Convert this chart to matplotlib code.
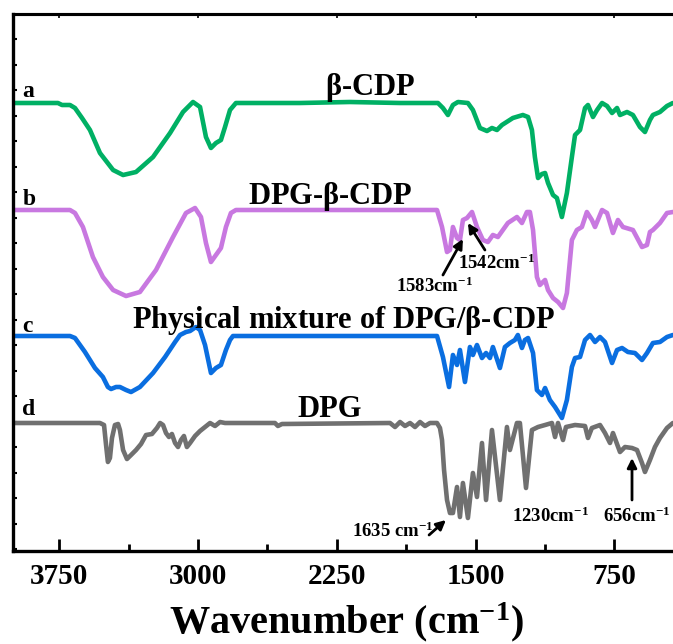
import numpy as np
import matplotlib
matplotlib.use("Agg")
import matplotlib.pyplot as plt

plt.rcParams['font.family'] = ['Liberation Serif', 'DejaVu Serif']
plt.rcParams['font.weight'] = 'bold'
plt.rcParams['mathtext.fontset'] = 'custom'
plt.rcParams['mathtext.rm'] = 'Liberation Serif:bold'
plt.rcParams['mathtext.it'] = 'Liberation Serif:bold'
plt.rcParams['mathtext.bf'] = 'Liberation Serif:bold'

# FTIR spectra (wavenumber in cm-1, stacked intensity in a.u.)
wn_a = [4000, 3757, 3735, 3692, 3665, 3627, 3584, 3530, 3459, 3405,
        3335, 3243, 3151, 3081, 3027, 2989, 2957, 2930, 2903, 2876,
        2854, 2827, 2795, 2449, 2179, 1908, 1703, 1676, 1649, 1622,
        1595, 1541, 1514, 1476, 1438, 1411, 1384, 1357, 1298, 1244,
        1216, 1195, 1179, 1162, 1141, 1124, 1108, 1081, 1060, 1033,
        1006, 979, 962, 935, 908, 892, 865, 843, 816, 789,
        762, 735, 719, 681, 649, 611, 584, 557, 541, 503,
        465, 433]
a_val = [448, 448, 446, 446, 443, 433, 421, 398, 381, 376,
         379, 394, 418, 439, 449, 444, 414, 403, 408, 411,
         424, 441, 448, 448, 449, 448, 448, 443, 436, 446,
         449, 448, 441, 423, 420, 423, 421, 426, 433, 436,
         434, 421, 394, 373, 377, 378, 368, 356, 353, 334,
         358, 394, 416, 421, 443, 446, 434, 441, 448, 445,
         438, 443, 436, 439, 436, 424, 419, 431, 436, 439,
         445, 448]

wn_b = [4000, 3692, 3665, 3622, 3568, 3514, 3459, 3389, 3314, 3227,
        3135, 3065, 3016, 2984, 2957, 2930, 2903, 2876, 2849, 2822,
        2795, 1708, 1681, 1654, 1638, 1622, 1600, 1584, 1568, 1546,
        1519, 1492, 1460, 1433, 1406, 1379, 1325, 1276, 1249, 1222,
        1206, 1189, 1168, 1152, 1124, 1108, 1081, 1054, 1027, 1006,
        979, 952, 925, 898, 871, 854, 816, 789, 757, 730,
        703, 649, 600, 573, 557, 541, 503, 465, 433]
b_val = [341, 341, 338, 324, 294, 274, 261, 255, 259, 281,
         314, 338, 343, 334, 308, 289, 296, 303, 324, 338,
         341, 341, 324, 299, 301, 324, 313, 311, 331, 333,
         339, 324, 311, 309, 316, 314, 328, 334, 328, 339,
         339, 321, 274, 266, 271, 261, 253, 249, 243, 258,
         311, 321, 324, 339, 331, 324, 341, 338, 318, 331,
         324, 321, 304, 306, 319, 321, 328, 338, 339]

wn_c = [4000, 3692, 3665, 3611, 3557, 3514, 3487, 3470, 3443, 3422,
        3389, 3362, 3314, 3243, 3178, 3124, 3097, 3065, 3043, 3011,
        2989, 2962, 2930, 2903, 2876, 2849, 2827, 2811, 1708, 1676,
        1643, 1622, 1600, 1584, 1557, 1530, 1514, 1492, 1465, 1443,
        1422, 1406, 1368, 1341, 1314, 1287, 1271, 1249, 1233, 1216,
        1189, 1168, 1141, 1124, 1098, 1070, 1033, 1006, 979, 962,
        935, 908, 881, 854, 827, 800, 762, 735, 708, 676,
        638, 600, 573, 541, 503, 465, 433]
c_val = [215, 215, 213, 199, 183, 174, 164, 162, 164, 164,
         161, 159, 164, 178, 194, 209, 216, 219, 220, 224,
         221, 206, 178, 183, 186, 201, 211, 215, 215, 194,
         164, 196, 186, 201, 169, 204, 196, 206, 193, 198,
         193, 204, 183, 204, 208, 211, 216, 203, 211, 213,
         198, 161, 156, 163, 151, 144, 133, 151, 184, 193,
         194, 211, 216, 209, 214, 209, 188, 201, 203, 199,
         198, 191, 198, 208, 209, 214, 216]

wn_d = [4000, 3530, 3508, 3497, 3487, 3476, 3465, 3449, 3432, 3422,
        3405, 3384, 3362, 3335, 3308, 3281, 3249, 3222, 3205, 3189,
        3173, 3157, 3141, 3124, 3108, 3092, 3076, 3060, 3043, 3016,
        2989, 2962, 2935, 2908, 2881, 2854, 2584, 2568, 2546, 1962,
        1935, 1908, 1881, 1854, 1827, 1800, 1773, 1746, 1708, 1692,
        1681, 1670, 1654, 1638, 1622, 1600, 1584, 1568, 1541, 1514,
        1492, 1465, 1443, 1411, 1368, 1330, 1314, 1276, 1260, 1227,
        1195, 1162, 1124, 1087, 1070, 1054, 1027, 1011, 962, 908,
        892, 871, 827, 800, 773, 757, 719, 692, 654, 627,
        600, 584, 557, 530, 503, 465, 433]
d_val = [128, 128, 126, 106, 89, 93, 113, 126, 127, 121,
         101, 92, 96, 101, 107, 116, 117, 123, 128, 126,
         118, 114, 117, 108, 104, 111, 115, 104, 108, 115,
         120, 124, 128, 125, 129, 128, 128, 125, 127, 128,
         124, 129, 125, 128, 124, 129, 125, 128, 128, 123,
         111, 81, 51, 38, 38, 64, 34, 68, 33, 78,
         54, 108, 51, 121, 51, 124, 101, 128, 128, 63,
         121, 124, 126, 128, 114, 128, 111, 124, 126, 125,
         113, 123, 126, 118, 108, 118, 99, 104, 103, 101,
         88, 79, 91, 104, 113, 123, 128]

series = [
    (wn_a, a_val, '#00B064', 'a', 454, r'$\beta$-CDP', 2070, 456),
    (wn_b, b_val, '#C878E0', 'b', 346, r'DPG-$\beta$-CDP', 2287, 347),
    (wn_c, c_val, '#0A6EE0', 'c', 219, r'Physical mixture of DPG/$\beta$-CDP', 2216, 223),
    (wn_d, d_val, '#707070', 'd', 136, 'DPG', 2287, 134),
]

fig = plt.figure(figsize=(6.73, 6.44), dpi=100)
ax = fig.add_axes([13/673, 93/644, 666/673, 537/644])

for wn, val, col, tag, tag_y, name, name_x, name_y in series:
    ax.plot(wn, val, color=col, lw=3.3, solid_joinstyle='round', solid_capstyle='round')
    ax.text(3950, tag_y, tag, fontsize=17, fontweight='bold', ha='left', va='baseline')
    ax.text(name_x, name_y, name, fontsize=22, fontweight='bold', ha='center', va='baseline')

arrow = dict(arrowstyle='-|>', color='k', lw=2, mutation_scale=14, shrinkA=0, shrinkB=0)
ax.annotate('', xy=(1568, 312), xytext=(1676, 276), arrowprops=arrow)
ax.text(1930, 259, r'1583cm$^{-1}$', fontsize=13.5, ha='left', va='baseline')
ax.annotate('', xy=(1541, 328), xytext=(1449, 301), arrowprops=arrow)
ax.text(1595, 282, r'1542cm$^{-1}$', fontsize=13.5, ha='left', va='baseline')
ax.annotate('', xy=(1660, 31), xytext=(1751, 16), arrowprops=arrow)
ax.text(2168, 14, r'1635 cm$^{-1}$', fontsize=13.5, ha='left', va='baseline')
ax.text(1303, 29, r'1230cm$^{-1}$', fontsize=13.5, ha='left', va='baseline')
ax.annotate('', xy=(654, 93), xytext=(654, 51), arrowprops=arrow)
ax.text(811, 29, r'656cm$^{-1}$', fontsize=13.5, ha='left', va='baseline')

ax.set_xlim(4000, 400)
ax.set_ylim(0, 537)
ax.set_xticks([3750, 3000, 2250, 1500, 750])
ax.set_xticks([3375, 2625, 1875, 1125], minor=True)
ax.set_yticks(np.arange(512, 0, -25.5))
ax.set_yticklabels([])
ax.tick_params(axis='x', which='major', direction='in', length=9, width=2, labelsize=21, pad=9)
ax.tick_params(axis='x', which='minor', direction='in', length=5, width=2)
ax.tick_params(axis='y', direction='in', length=3, width=1.5)
for lab in ax.get_xticklabels():
    lab.set_fontweight('bold')

top = ax.secondary_xaxis('top')
top.set_xticks([3750, 3000, 2250, 1500, 750])
top.set_xticklabels([])
top.tick_params(direction='in', length=3, width=1.2)
top.spines['top'].set_linewidth(2.2)

ax.spines['right'].set_visible(False)
ax.spines['left'].set_linewidth(2.4)
ax.spines['bottom'].set_linewidth(2.4)
ax.spines['top'].set_linewidth(2.2)

ax.set_xlabel(r'Wavenumber (cm$^{-1}$)', fontsize=29, fontweight='bold', labelpad=7)

fig.savefig('out.png', dpi=100)
